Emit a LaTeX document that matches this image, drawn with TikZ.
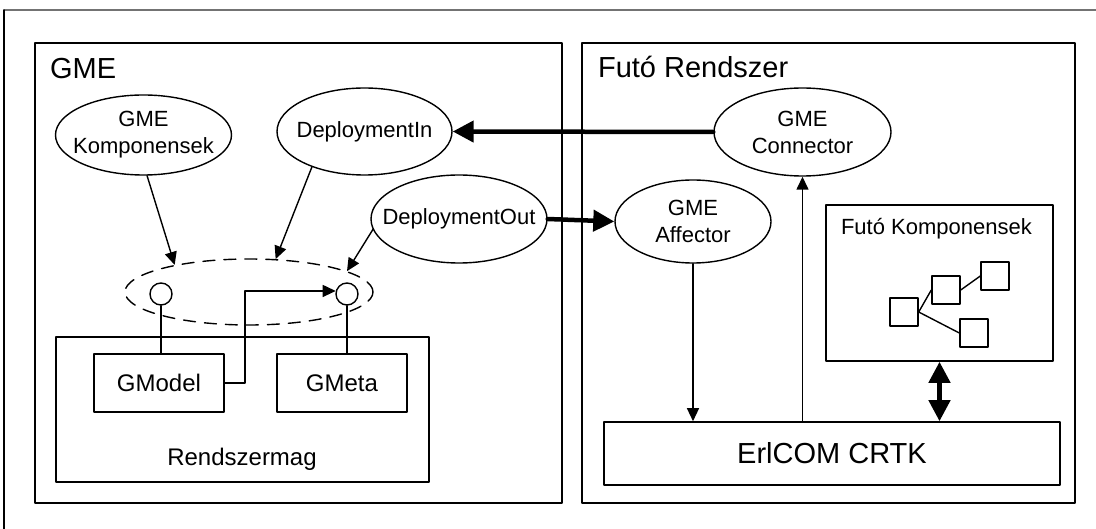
\documentclass[tikz,border=0pt]{standalone}
\usepackage{fontspec}
\setmainfont{Liberation Sans}
\usetikzlibrary{arrows.meta,positioning,shapes.geometric}

\begin{document}
\begin{tikzpicture}[x=1pt,y=-1pt, font=\fontsize{22}{27}\selectfont, line join=round, line cap=round, line width=1.4pt, >={Triangle[length=13pt,width=12pt]}]
	%%Meretek es stilusok
	\def \szeles{1096}
	\def \magas{529}
	\tikzset{
		doboz/.style={draw, rectangle, line width=1.6pt, inner sep=0pt, font=\fontsize{24}{29}\selectfont},
		ellip/.style={draw, ellipse, inner sep=0pt},
		cim/.style={anchor=base west, font=\fontsize{29}{34}\selectfont},
		kor/.style={draw, circle, minimum size=22pt, inner sep=0pt},
		kocka/.style={draw, rectangle, minimum size=28pt, inner sep=0pt},
		vastag/.style={line width=4.5pt, >={Triangle[length=21pt,width=21pt]}}
	}
	\useasboundingbox (0,0) rectangle (\szeles,\magas);
	%%Kulso keret
	\draw[black!55] (\szeles+5,10) -- (4,10);
	\draw (4,10) -- (4,\magas+5);
	%%GME
	\node[doboz, minimum width=527pt, minimum height=460pt] (gme) at (298.5,273) {};
	\node[cim] (gmecim) at (46,79) {GME};
	\node[ellip, minimum width=176pt, minimum height=80pt, label={[align=center]center:GME\\Komponensek}] (gk) at (143.5,135) {};
	\node[ellip, minimum width=175pt, minimum height=87pt, label={center:DeploymentIn}] (di) at (364.5,131.5) {};
	\node[ellip, minimum width=176pt, minimum height=88pt, label={center:DeploymentOut}] (do) at (459,219) {};
	\node[ellip, dash pattern=on 12pt off 9pt, minimum width=248pt, minimum height=66pt] (de) at (249,292) {};
	\node[kor] (lk) at (161,294) {};
	\node[kor] (rk) at (347,294) {};
	\node[doboz, minimum width=373pt, minimum height=145pt] (rm) at (242.5,409.5) {};
	\node[doboz, minimum width=130pt, minimum height=58pt] (gmodel) at (159,383) {GModel};
	\node[doboz, minimum width=130pt, minimum height=58pt] (gmeta) at (342,383) {GMeta};
	\node[anchor=base, font=\fontsize{24}{29}\selectfont] (rmcim) at (242,465) {Rendszermag};
	\draw[->] (gk.275) -- (de.160);
	\draw[->] (di.214) -- (de.51);
	\draw[->] (do.187) -- (de.12);
	\draw (lk.south) -- (lk.south |- gmodel.north);
	\draw (rk.south) -- (rk.south |- gmeta.north);
	\draw[->] (gmodel.east) -- ++(20,0) |- (rk.165);
	%%Futo Rendszer
	\node[doboz, minimum width=493pt, minimum height=460pt] (fr) at (828.5,273) {};
	\node[cim] (frcim) at (594,78) {Futó Rendszer};
	\node[ellip, minimum width=177pt, minimum height=88pt, label={[align=center]center:GME\\Connector}] (gc) at (802.5,132) {};
	\node[ellip, minimum width=156pt, minimum height=83pt, label={[align=center]center:GME\\Affector}] (ga) at (693,221.5) {};
	\node[doboz, minimum width=227pt, minimum height=156pt] (fk) at (939.5,283) {};
	\node[anchor=base west] (fkcim) at (837,235) {Futó Komponensek};
	\node[kocka] (ka) at (904,312) {};
	\node[kocka] (kb) at (946,290) {};
	\node[kocka] (kc) at (995,276) {};
	\node[kocka] (kd) at (974,333) {};
	\draw (ka.east) -- (kb.west) (kb.east) -- (kc.west) (ka.east) -- (kd.west);
	\node[doboz, minimum width=456pt, minimum height=63pt, font=\fontsize{29}{34}\selectfont] (crtk) at (832,453.5) {ErlCOM CRTK};
	\draw[vastag, ->] (gc.west) -- (di.east);
	\draw[vastag, ->] (do.east) -- (ga.west);
	\draw[->] (ga.south) -- (ga.south |- crtk.north);
	\draw[->] (crtk.north -| gc.south) -- (gc.south);
	\draw[vastag, <->] (fk.south) -- (fk.south |- crtk.north);
\end{tikzpicture}
\end{document}
